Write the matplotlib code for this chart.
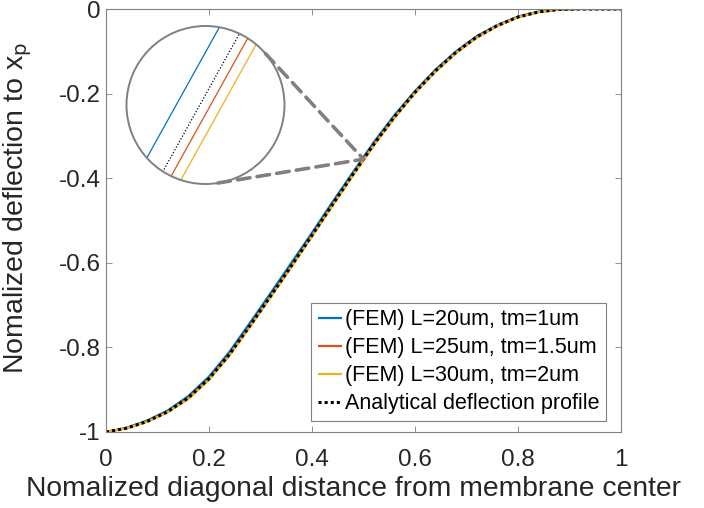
import matplotlib

matplotlib.use("Agg")
import matplotlib.pyplot as plt
import numpy as np
from matplotlib.patches import Circle, ConnectionPatch

plt.rcParams["font.family"] = ["Liberation Sans", "DejaVu Sans"]
plt.rcParams["axes.unicode_minus"] = False

# normalized diagonal distance
X = [0.0, 0.04, 0.08, 0.12, 0.16, 0.2, 0.24, 0.28, 0.32, 0.36, 0.4, 0.44, 0.48,
     0.52, 0.56, 0.6, 0.64, 0.68, 0.72, 0.76, 0.8, 0.84, 0.88, 0.92, 0.96, 1.0]
FEM_L20 = [-1.0, -0.990, -0.973, -0.949, -0.915, -0.869, -0.810, -0.741, -0.671, -0.600,
           -0.529, -0.456, -0.385, -0.315, -0.251, -0.194, -0.143, -0.100, -0.064, -0.038,
           -0.018, -0.006, -0.001, 0.0, 0.0, 0.0]
FEM_L25 = [-1.0, -0.991, -0.975, -0.952, -0.920, -0.875, -0.817, -0.749, -0.679, -0.608,
           -0.536, -0.463, -0.391, -0.321, -0.256, -0.198, -0.147, -0.103, -0.067, -0.040,
           -0.019, -0.007, -0.001, 0.0, 0.0, 0.0]
FEM_L30 = [-1.0, -0.991, -0.976, -0.953, -0.922, -0.877, -0.819, -0.751, -0.681, -0.610,
           -0.538, -0.465, -0.393, -0.323, -0.258, -0.199, -0.148, -0.104, -0.068, -0.040,
           -0.020, -0.007, -0.001, 0.0, 0.0, 0.0]
ANALYTICAL = [-1.0, -0.991, -0.975, -0.952, -0.919, -0.874, -0.816, -0.748, -0.678, -0.607,
              -0.535, -0.462, -0.390, -0.320, -0.255, -0.197, -0.146, -0.102, -0.066, -0.039,
              -0.019, -0.007, -0.001, 0.0, 0.0, 0.0]

# zoomed view around x = 0.5 (inset window x 0.49..0.51, y -0.365..-0.345)
ZOOM_Y = [-0.368, -0.342]
ZOOM_L20 = [0.48907, 0.50351]
ZOOM_L25 = [0.49343, 0.50787]
ZOOM_L30 = [0.49493, 0.50937]
ZOOM_AN = [0.49206, 0.50650]

LABELS = ["(FEM) L=20um, tm=1um", "(FEM) L=25um, tm=1.5um",
          "(FEM) L=30um, tm=2um", "Analytical deflection profile"]
COLORS = ["#0072BD", "#D95319", "#EDB120"]
TEXT = "#262626"
GRAY = "#808080"

fig = plt.figure(figsize=(7.04, 5.08), dpi=100, facecolor="white")
ax = fig.add_axes([106 / 704, 76 / 508, 515 / 704, 423 / 508])

for ys, c, lab in zip([FEM_L20, FEM_L25, FEM_L30], COLORS, LABELS):
    ax.plot(X, ys, color=c, lw=1.6, label=lab, solid_capstyle="butt")
ax.plot(X, ANALYTICAL, color="black", lw=2.2, ls=(0, (1, 1)), label=LABELS[3])

ax.set_xlim(0, 1)
ax.set_ylim(-1, 0)
ax.set_xticks(np.arange(0, 1.01, 0.2))
ax.set_xticklabels(["0", "0.2", "0.4", "0.6", "0.8", "1"])
ax.set_yticks(np.arange(-1, 0.01, 0.2))
ax.set_yticklabels(["-1", "-0.8", "-0.6", "-0.4", "-0.2", "0"])
ax.tick_params(direction="in", length=4, width=0.6, colors=GRAY, labelcolor=TEXT,
               labelsize=17.5, top=True, right=True)
ax.tick_params(axis="x", pad=12)
ax.tick_params(axis="y", pad=4)
for sp in ax.spines.values():
    sp.set_color(GRAY)
    sp.set_linewidth(0.8)

ax.set_xlabel("Nomalized diagonal distance from membrane center", fontsize=20.3, color=TEXT)
ax.xaxis.set_label_coords(0.481, -0.105)
ax.set_ylabel(r"Nomalized deflection to x$_{\mathrm{p}}$", fontsize=20.5, color=TEXT)
ax.yaxis.set_label_coords(-0.14, 0.53)

leg = ax.legend(loc="lower right", bbox_to_anchor=(0.97, 0.027), fontsize=15.5,
                handlelength=1.15, handletextpad=0.1, borderpad=0.3, labelspacing=0.32,
                borderaxespad=0.0, fancybox=False, framealpha=1)
leg.get_frame().set_edgecolor(GRAY)
leg.get_frame().set_linewidth(0.8)
for t in leg.get_texts():
    t.set_color("black")

# circular magnifier inset
ins = fig.add_axes([126.5 / 704, (508 - 184) / 508, 158 / 704, 158 / 508])
ins.set_xlim(0.49, 0.51)
ins.set_ylim(-0.365, -0.345)
ins.axis("off")
ins.patch.set_alpha(0)
circ = Circle((0.5, 0.5), 0.5, transform=ins.transAxes, facecolor="none",
              edgecolor=GRAY, lw=1.4, zorder=5, clip_on=False)
ins.add_patch(circ)
for xs, c in zip([ZOOM_L20, ZOOM_L25, ZOOM_L30], COLORS):
    ln, = ins.plot(xs, ZOOM_Y, color=c, lw=0.9)
    ln.set_clip_path(circ)
ln, = ins.plot(ZOOM_AN, ZOOM_Y, color="black", lw=0.9, ls=(0, (1, 1.5)))
ln.set_clip_path(circ)

# dashed connectors from circle edge to the magnified spot
for ang in (40.7, -81.0):
    a = np.deg2rad(ang)
    con = ConnectionPatch(xyA=(0.5 + 0.5 * np.cos(a), 0.5 + 0.5 * np.sin(a)), coordsA=ins.transAxes,
                          xyB=(0.5, -0.355), coordsB=ax.transData,
                          color=GRAY, lw=2.6, ls=(0, (3.5, 2)))
    fig.add_artist(con)

fig.savefig("out.png", dpi=100, facecolor="white")
